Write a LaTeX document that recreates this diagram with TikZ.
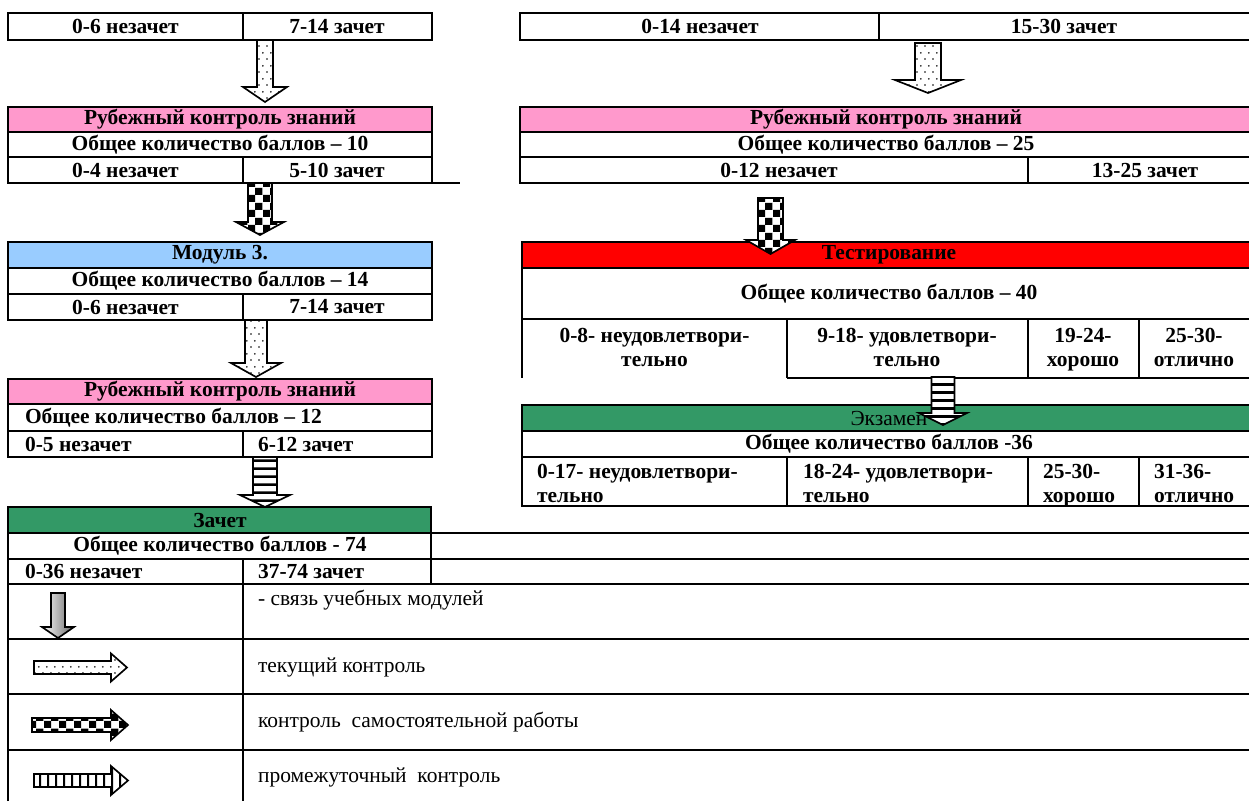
\documentclass[tikz,border=0pt]{standalone}
\usepackage{fontspec}
\setmainfont{Liberation Serif}
\usetikzlibrary{patterns}

% fill patterns of the block arrows
\pgfdeclarepatternformonly{spots}{\pgfqpoint{0pt}{0pt}}{\pgfqpoint{4pt}{6pt}}{\pgfqpoint{4pt}{6pt}}{%
	\pgfpathcircle{\pgfqpoint{1pt}{1.5pt}}{0.45pt}
	\pgfpathcircle{\pgfqpoint{3pt}{4.5pt}}{0.45pt}
	\pgfusepath{fill}}
\pgfdeclarepatternformonly{chess}{\pgfqpoint{0pt}{0pt}}{\pgfqpoint{7pt}{7pt}}{\pgfqpoint{7pt}{7pt}}{%
	\pgfpathrectangle{\pgfqpoint{0pt}{0pt}}{\pgfqpoint{3.5pt}{3.5pt}}
	\pgfpathrectangle{\pgfqpoint{3.5pt}{3.5pt}}{\pgfqpoint{3.5pt}{3.5pt}}
	\pgfusepath{fill}}
\pgfdeclarepatternformonly{hbars}{\pgfqpoint{0pt}{0pt}}{\pgfqpoint{4pt}{4pt}}{\pgfqpoint{4pt}{4pt}}{%
	\pgfpathrectangle{\pgfqpoint{0pt}{0pt}}{\pgfqpoint{4pt}{1.4pt}}
	\pgfusepath{fill}}
\pgfdeclarepatternformonly{vbars}{\pgfqpoint{0pt}{0pt}}{\pgfqpoint{3.8pt}{4pt}}{\pgfqpoint{3.8pt}{4pt}}{%
	\pgfpathrectangle{\pgfqpoint{0pt}{0pt}}{\pgfqpoint{1pt}{4pt}}
	\pgfusepath{fill}}

% block arrows: centre, half shaft, half head, start, head, tip
\newcommand{\downblk}[6]{(#1-#2,#4) -- (#1+#2,#4) -- (#1+#2,#5) -- (#1+#3,#5) -- (#1,#6) -- (#1-#3,#5) -- (#1-#2,#5) -- cycle}
\newcommand{\rightblk}[6]{(#4,#1-#2) -- (#5,#1-#2) -- (#5,#1-#3) -- (#6,#1) -- (#5,#1+#3) -- (#5,#1+#2) -- (#4,#1+#2) -- cycle}

\definecolor{rosehead}{HTML}{FF99CC}
\definecolor{bluehead}{HTML}{99CCFF}
\definecolor{greenhead}{HTML}{339966}
\definecolor{redhead}{HTML}{FF0000}

\tikzset{
	txt/.style={font=\fontsize{10.3}{11.5}\selectfont\bfseries, inner sep=0pt},
	legendtxt/.style={font=\fontsize{10.3}{12}\selectfont, inner sep=0pt, anchor=west},
	blk/.style={draw, line width=0.8pt, preaction={fill=white}},
}

\begin{document}
\begin{tikzpicture}[x=0.48pt, y=-0.48pt, line width=1pt]
	\useasboundingbox (0,0) rectangle (1249,801);

	% left column, first result
	\draw (8,13) rectangle (432,40);
	\draw (243,13) -- (243,40);
	\node[txt] (fail1) at (125.5,26.5) {0-6 незачет};
	\node[txt] (pass1) at (337,26.5) {7-14 зачет};

	% left column, Rubezhny kontrol (10)
	\fill[rosehead] (8,107) rectangle (432,132);
	\draw (8,107) rectangle (432,183);
	\draw (8,132) -- (432,132);
	\draw (8,157) -- (432,157);
	\draw (432,183) -- (460,183);
	\draw (243,157) -- (243,183);
	\node[txt] (head2) at (220,119.5) {Рубежный контроль знаний};
	\node[txt] (total2) at (220,144.5) {Общее количество баллов – 10};
	\node[txt] (fail2) at (125.5,170) {0-4 незачет};
	\node[txt] (pass2) at (337,170) {5-10 зачет};

	% left column, Modul 3
	\fill[bluehead] (8,242) rectangle (432,268);
	\draw (8,242) rectangle (432,320);
	\draw (8,268) -- (432,268);
	\draw (8,294) -- (432,294);
	\draw (243,294) -- (243,320);
	\node[txt] (head3) at (220,255) {Модуль 3.};
	\node[txt] (total3) at (220,281) {Общее количество баллов – 14};
	\node[txt] (fail3) at (125.5,307) {0-6 незачет};
	\node[txt] (pass3) at (337,307) {7-14 зачет};

	% left column, Rubezhny kontrol (12)
	\fill[rosehead] (8,379) rectangle (432,404);
	\draw (8,379) rectangle (432,457);
	\draw (8,404) -- (432,404);
	\draw (8,431) -- (432,431);
	\draw (243,431) -- (243,457);
	\node[txt] (head4) at (220,391.5) {Рубежный контроль знаний};
	\node[txt, anchor=west] (total4) at (24,417.5) {Общее количество баллов – 12};
	\node[txt, anchor=west] (fail4) at (24,444) {0-5 незачет};
	\node[txt, anchor=west] (pass4) at (257,444) {6-12 зачет};

	% left column, Zachet
	\fill[greenhead] (8,507) rectangle (431,533);
	\draw (8,801) -- (8,507) -- (431,507) -- (431,584);
	\draw (8,533) -- (1249,533);
	\draw (8,559) -- (1249,559);
	\draw (8,584) -- (1249,584);
	\draw (243,559) -- (243,801);
	\node[txt] (head5) at (220,520) {Зачет};
	\node[txt] (total5) at (220,546) {Общее количество баллов - 74};
	\node[txt, anchor=west] (fail5) at (24,571.5) {0-36 незачет};
	\node[txt, anchor=west] (pass5) at (257,571.5) {37-74 зачет};

	% legend
	\draw (8,639) -- (1249,639);
	\draw (8,694) -- (1249,694);
	\draw (8,750) -- (1249,750);
	\node[legendtxt] (key1) at (257,600) {- связь учебных модулей};
	\node[legendtxt] (key2) at (257,667) {текущий контроль};
	\node[legendtxt] (key3) at (257,722) {контроль\ \ самостоятельной работы};
	\node[legendtxt] (key4) at (257,777) {промежуточный\ \ контроль};
	\draw[line width=0.8pt, left color=white, right color=black!60] \downblk{58}{7}{16}{593}{627}{638};
	\draw[blk, pattern=spots] \rightblk{667.5}{6.5}{14}{34}{111}{127};
	\draw[blk, pattern=chess] \rightblk{725}{7}{15}{32}{111}{128};
	\draw[blk, pattern=vbars] \rightblk{780.5}{6.5}{14.5}{34}{111}{128};

	% right column, first result
	\draw (1249,13) -- (520,13) -- (520,40) -- (1249,40);
	\draw (879,13) -- (879,40);
	\node[txt] (fail6) at (700,26.5) {0-14 незачет};
	\node[txt] (pass6) at (1064,26.5) {15-30 зачет};

	% right column, Rubezhny kontrol (25)
	\fill[rosehead] (520,107) rectangle (1249,132);
	\draw (1249,107) -- (520,107) -- (520,183) -- (1249,183);
	\draw (520,132) -- (1249,132);
	\draw (520,157) -- (1249,157);
	\draw (1028,157) -- (1028,183);
	\node[txt] (head7) at (886,119.5) {Рубежный контроль знаний};
	\node[txt] (total7) at (886,144.5) {Общее количество баллов – 25};
	\node[txt] (fail7) at (779,170) {0-12 незачет};
	\node[txt] (pass7) at (1145,170) {13-25 зачет};

	% right column, Testirovanie
	\fill[redhead] (522,242) rectangle (1249,268);
	\draw (1249,242) -- (522,242) -- (522,378);
	\draw (522,268) -- (1249,268);
	\draw (522,319) -- (1249,319);
	\draw (787,378) -- (1249,378);
	\foreach \cx in {787,1028,1139}
		\draw (\cx,319) -- (\cx,378);
	\node[txt] (head8) at (889,255) {Тестирование};
	\node[txt] (total8) at (889,293.5) {Общее количество баллов – 40};
	\node[txt, align=center, anchor=north] (bad8) at (654.5,327) {0-8- неудовлетвори-\\тельно};
	\node[txt, align=center, anchor=north] (fair8) at (907,327) {9-18- удовлетвори-\\тельно};
	\node[txt, align=center, anchor=north] (good8) at (1083,327) {19-24-\\хорошо};
	\node[txt, align=center, anchor=north] (best8) at (1194,327) {25-30-\\отлично};

	% right column, Ekzamen
	\fill[greenhead] (522,405) rectangle (1249,431);
	\draw (1249,405) -- (522,405) -- (522,506) -- (1249,506);
	\draw (522,431) -- (1249,431);
	\draw (522,457) -- (1249,457);
	\foreach \cx in {787,1028,1139}
		\draw (\cx,457) -- (\cx,506);
	\node[txt, font=\fontsize{10.3}{12}\selectfont] (head9) at (889,418) {Экзамен};
	\node[txt] (total9) at (889,444) {Общее количество баллов -36};
	\node[txt, align=left, anchor=north west] (bad9) at (536,463) {0-17- неудовлетвори-\\тельно};
	\node[txt, align=left, anchor=north west] (fair9) at (802,463) {18-24- удовлетвори-\\тельно};
	\node[txt, align=left, anchor=north west] (good9) at (1042,463) {25-30-\\хорошо};
	\node[txt, align=left, anchor=north west] (best9) at (1153,463) {31-36-\\отлично};

	% block arrows between the boxes
	\draw[blk, pattern=spots] \downblk{265}{8}{22}{40}{87}{102};
	\draw[blk, pattern=chess] \downblk{260}{12}{24}{183}{222}{235};
	\draw[blk, pattern=spots] \downblk{256}{11}{25}{320}{363}{377};
	\draw[blk, pattern=hbars] \downblk{265}{12}{25}{457}{495}{507};
	\draw[blk, pattern=spots] \downblk{928}{13}{33}{43}{80}{93};
	\draw[blk, pattern=chess] \downblk{770.5}{12.5}{24.5}{198}{240}{254};
	\draw[blk, pattern=hbars] \downblk{943}{11.5}{24}{377}{413}{425};
\end{tikzpicture}
\end{document}
